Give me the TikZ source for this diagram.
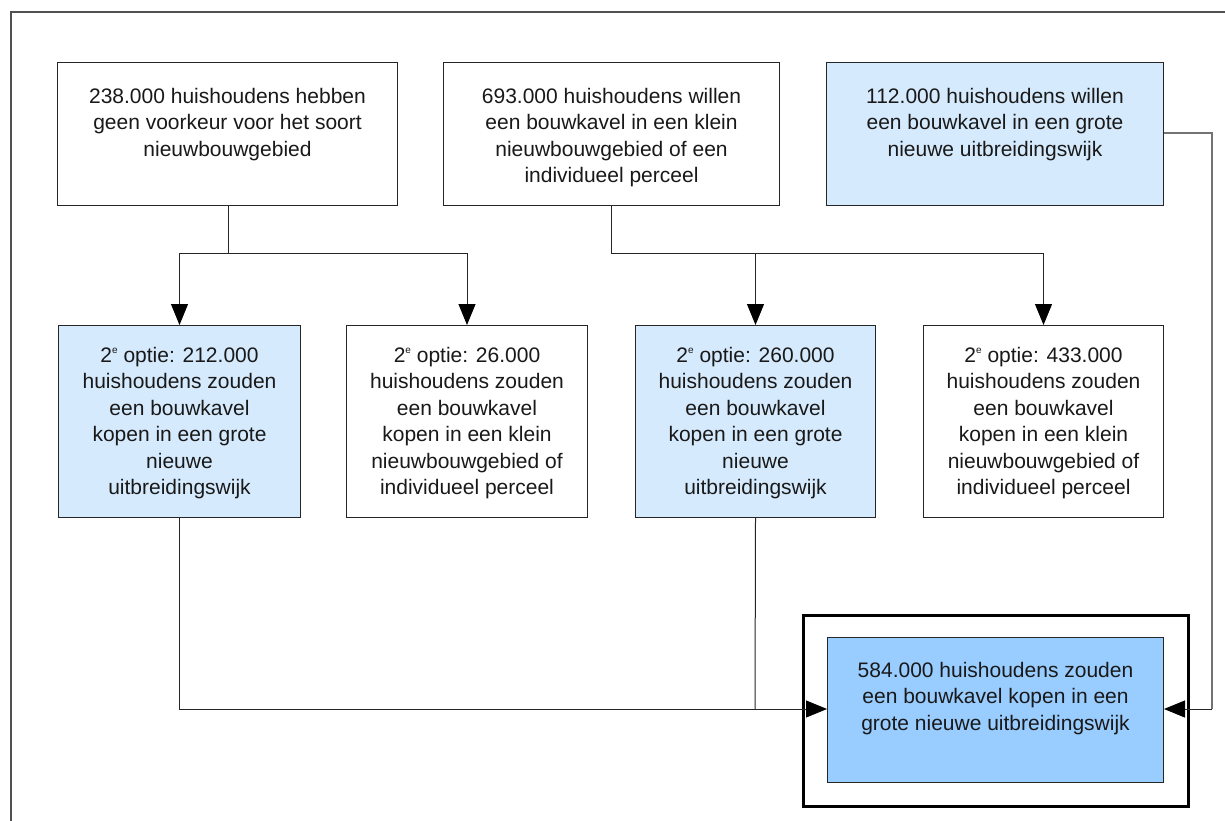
\documentclass[tikz,border=0pt]{standalone}
\usepackage{fontspec}
\setmainfont{Liberation Sans}
\usetikzlibrary{arrows.meta}
\definecolor{lightblue}{RGB}{214,234,253}
\definecolor{midblue}{RGB}{153,204,255}
\definecolor{framegray}{RGB}{80,80,80}
\newcommand{\optE}{\raisebox{0.42em}{\fontsize{10}{10}\selectfont e}}
\tikzset{
  box/.style={draw=black!85, line width=1pt, inner sep=0pt, anchor=north west},
  whitebox/.style={box, fill=white},
  bluebox/.style={box, fill=lightblue},
  txt/.style={anchor=north, inner sep=0pt, align=center, font=\fontsize{21}{26.5}\selectfont, text=black!90},
  conn/.style={draw=black!85, line width=1pt},
  arr/.style={conn, -{Triangle[width=17pt,length=21pt,color=black]}},
}
\begin{document}
\begin{tikzpicture}[x=1pt,y=-1pt]
\useasboundingbox (0,0) rectangle (1225,821);
\begin{scope}
\clip (0,0) rectangle (1225,821);
\draw[framegray, line width=2pt] (11,840) -- (11,12) -- (1240,12);
\end{scope}

% top row
\node[whitebox, minimum width=340pt, minimum height=143pt] (t1) at (57,62) {};
\node[whitebox, minimum width=336pt, minimum height=143pt] (t2) at (443,62) {};
\node[bluebox, minimum width=337pt, minimum height=143pt] (t3) at (826,62) {};
\node[txt] (tt1) at ([yshift=-25pt]t1.north) {\rule{0pt}{16pt}238.000 huishoudens hebben\\geen voorkeur voor het soort\\nieuwbouwgebied};
\node[txt] (tt2) at ([yshift=-25pt]t2.north) {\rule{0pt}{16pt}693.000 huishoudens willen\\een bouwkavel in een klein\\nieuwbouwgebied of een\\individueel perceel};
\node[txt] (tt3) at ([yshift=-25pt]t3.north) {\rule{0pt}{16pt}112.000 huishoudens willen\\een bouwkavel in een grote\\nieuwe uitbreidingswijk};

% middle row
\node[bluebox, minimum width=242pt, minimum height=192pt] (m1) at (58,325) {};
\node[whitebox, minimum width=241pt, minimum height=192pt] (m2) at (346,325) {};
\node[bluebox, minimum width=240pt, minimum height=192pt] (m3) at (635,325) {};
\node[whitebox, minimum width=240pt, minimum height=192pt] (m4) at (923,325) {};
\node[txt] (tm1) at ([yshift=-21pt]m1.north) {\rule{0pt}{16pt}2\optE{} optie: 212.000\\huishoudens zouden\\een bouwkavel\\kopen in een grote\\nieuwe\\uitbreidingswijk};
\node[txt] (tm2) at ([yshift=-21pt]m2.north) {\rule{0pt}{16pt}2\optE{} optie: 26.000\\huishoudens zouden\\een bouwkavel\\kopen in een klein\\nieuwbouwgebied of\\individueel perceel};
\node[txt] (tm3) at ([yshift=-21pt]m3.north) {\rule{0pt}{16pt}2\optE{} optie: 260.000\\huishoudens zouden\\een bouwkavel\\kopen in een grote\\nieuwe\\uitbreidingswijk};
\node[txt] (tm4) at ([yshift=-21pt]m4.north) {\rule{0pt}{16pt}2\optE{} optie: 433.000\\huishoudens zouden\\een bouwkavel\\kopen in een klein\\nieuwbouwgebied of\\individueel perceel};

% bottom
\node[box, draw=black, line width=2.5pt, fill=white, minimum width=385pt, minimum height=191pt] (outer) at (802,614) {};
\node[box, fill=midblue, minimum width=336pt, minimum height=145pt] (b) at (827,637) {};
\node[txt] (tb) at ([yshift=-24pt]b.north) {\rule{0pt}{16pt}584.000 huishoudens zouden\\een bouwkavel kopen in een\\grote nieuwe uitbreidingswijk};

% connectors
\coordinate (s1) at (228,253);
\coordinate (s2) at (611,253);
\coordinate (jn) at (755,709);
\coordinate (rt) at (1212,133);
\draw[conn] (t1.south -| s1) -- (s1);
\draw[arr] (s1) -| (m1.north);
\draw[arr] (s1) -| (m2.north);
\draw[conn] (t2.south -| s2) -- (s2);
\draw[arr] (s2) -| (m3.north);
\draw[arr] (s2) -| (m4.north);
\draw[arr] (m1.south) |- (b.west |- jn);
\draw[conn] (m3.south) -- (jn);
\draw[conn, draw=black!55, line width=1.5pt] (t3.east |- rt) -- (rt) -- (rt |- jn);
\draw[arr] (rt |- jn) -- (b.east |- jn);
\end{tikzpicture}
\end{document}
